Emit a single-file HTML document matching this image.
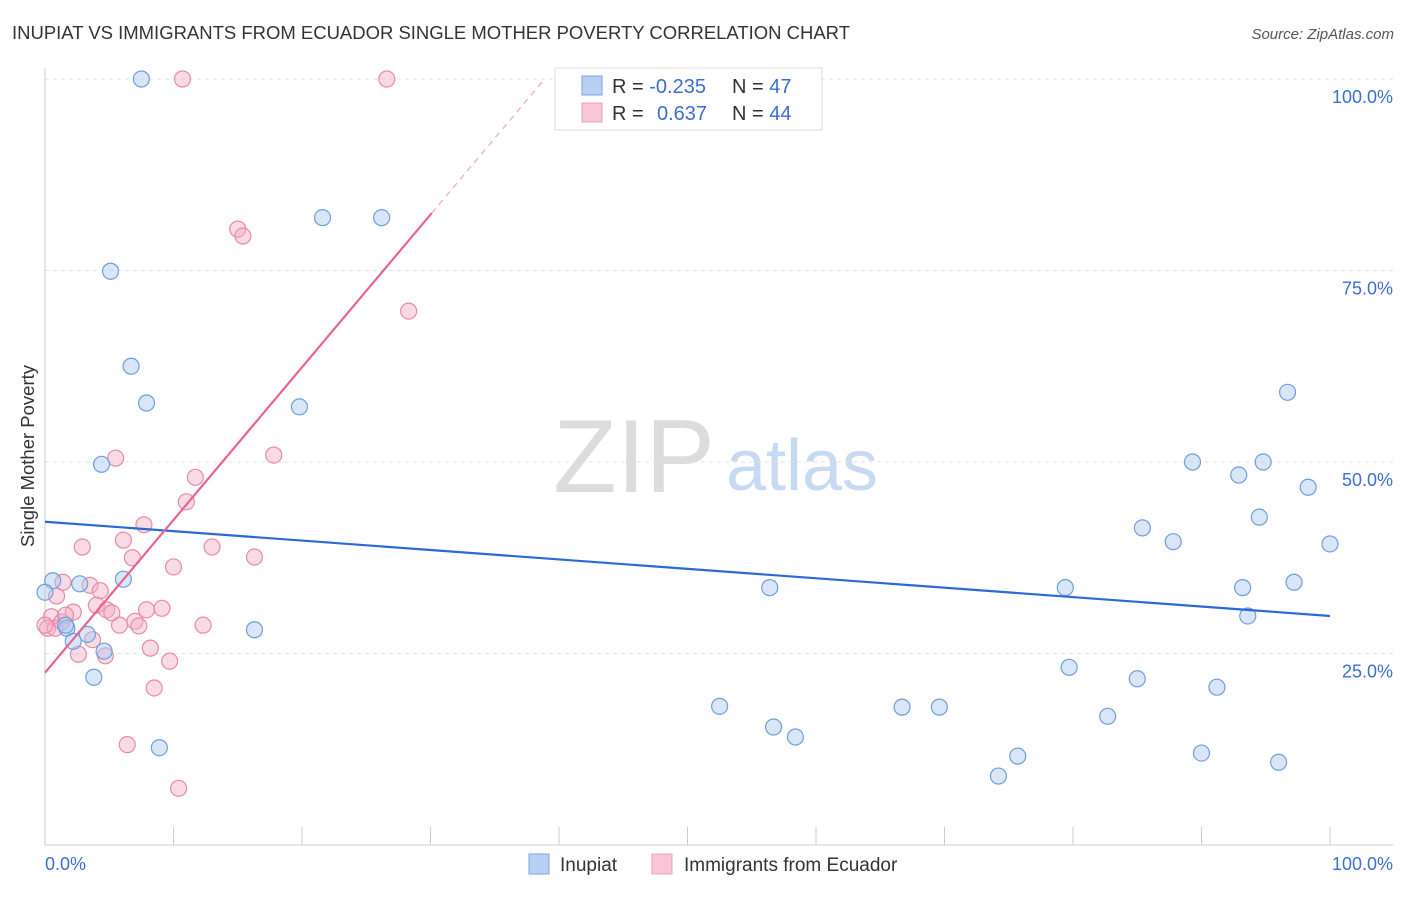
<!DOCTYPE html>
<html><head><meta charset="utf-8"><style>
body{margin:0;background:#fff;font-family:"Liberation Sans",sans-serif}
svg text{font-family:"Liberation Sans",sans-serif}
</style></head><body>
<svg id="chart" width="1406" height="892" xmlns="http://www.w3.org/2000/svg">
<text x="12" y="39" font-size="18.5" fill="#333" textLength="838" lengthAdjust="spacingAndGlyphs">INUPIAT VS IMMIGRANTS FROM ECUADOR SINGLE MOTHER POVERTY CORRELATION CHART</text>
<text x="1394" y="39" font-size="15" fill="#555" font-style="italic" text-anchor="end">Source: ZipAtlas.com</text>
<text transform="translate(34,456) rotate(-90)" font-size="18.5" fill="#333" text-anchor="middle">Single Mother Poverty</text>
<g>
<text x="634" y="492" font-size="104" fill="#dcdcdc" font-family="Liberation Serif" text-anchor="middle">ZIP</text>
<text x="802" y="490" font-size="72" fill="#c8daf2" text-anchor="middle">atlas</text>
</g>
<g id="grid"></g>
<g id="axes"></g>
<g id="marks"></g>
<g>
<rect x="555" y="68" width="267" height="62" fill="#fff" stroke="#ddd"/>
<rect x="582" y="76" width="20" height="19" fill="#b8d1f3" stroke="#7aa6e0"/>
<rect x="582" y="103" width="20" height="19" fill="#f8c6d5" stroke="#eda0b8"/>
<text x="612" y="93" font-size="20" fill="#333">R = <tspan fill="#3a6fd0">-0.235</tspan></text>
<text x="732" y="93" font-size="20" fill="#333">N = <tspan fill="#3a6fd0">47</tspan></text>
<text x="612" y="120" font-size="20" fill="#333">R = <tspan fill="#3a6fd0" x="657">0.637</tspan></text>
<text x="732" y="120" font-size="20" fill="#333">N = <tspan fill="#3a6fd0">44</tspan></text>
</g>
<g>
<rect x="529" y="854" width="20" height="20" fill="#b8d1f3" stroke="#7aa6e0"/>
<text x="560" y="871" font-size="19" fill="#333">Inupiat</text>
<rect x="652" y="854" width="20" height="20" fill="#f8c6d5" stroke="#eda0b8"/>
<text x="684" y="871" font-size="19" fill="#333">Immigrants from Ecuador</text>
</g>
</svg>
<script>
const yTicks=[25,50,75,100];
const yTickLabels=["25.0%","50.0%","75.0%","100.0%"];
const blueX=[7.5,21.6,26.2,5.1,6.7,7.9,19.8,4.4,0.6,2.7,6.1,0,1.7,2.2,3.3,4.6,3.8,8.9,16.3,52.5,56.7,58.4,56.4,66.7,69.6,74.2,75.7,79.4,79.7,82.7,85.0,85.4,87.8,89.3,90.0,91.2,92.9,93.2,93.6,94.5,94.8,96.0,96.7,97.2,98.3,100,1.6];
const blueY=[100,81.9,81.9,74.9,62.5,57.7,57.2,49.7,34.5,34.1,34.7,33.0,28.3,26.6,27.5,25.3,21.9,12.7,28.1,18.1,15.4,14.1,33.6,18.0,18.0,9.0,11.6,33.6,23.2,16.8,21.7,41.4,39.6,50.0,12.0,20.6,48.3,33.6,29.9,42.8,50.0,10.8,59.1,34.3,46.7,39.3,28.7];
const pinkX=[10.7,26.6,15.0,15.4,28.3,17.8,5.5,11.7,11.0,7.7,6.1,2.9,13.0,16.3,6.8,10.0,1.4,3.5,4.3,0.9,4.0,4.8,5.2,7.9,9.1,2.2,0.5,7.0,5.8,12.3,7.3,0.2,0.8,1.3,3.7,8.2,2.6,4.7,9.7,8.5,6.4,10.4,0,1.6];
const pinkY=[100,100,80.4,79.5,69.7,50.9,50.5,48.0,44.8,41.8,39.8,38.9,38.9,37.6,37.5,36.3,34.3,33.9,33.2,32.5,31.3,30.7,30.3,30.7,30.9,30.4,29.8,29.2,28.7,28.7,28.6,28.3,28.3,29.1,26.8,25.7,24.9,24.7,24.0,20.5,13.1,7.4,28.7,30.0];
const blueTrend=[42.2,29.9];
const pinkTrend=[22.5,82.5];
const pinkSolidEnd=30.1;
const NS="http://www.w3.org/2000/svg";
const X0=45,X1=1330,Y0=845,Y1=79;
const sx=v=>X0+(X1-X0)*v/100;
const sy=v=>Y0-(Y0-Y1)*v/100;
function mk(tag,attrs,parent){const e=document.createElementNS(NS,tag);for(const k in attrs)e.setAttribute(k,attrs[k]);parent.appendChild(e);return e;}
const grid=document.getElementById('grid'),axes=document.getElementById('axes'),marks=document.getElementById('marks');
yTicks.forEach((t,i)=>{
 const l=mk('line',{x1:X0,x2:1393,y1:sy(t),y2:sy(t),stroke:'#e2e2e2','stroke-dasharray':'4,4'},grid);
 
 
 const tx=mk('text',{x:1393,y:sy(t)+24,'font-size':18,fill:'#3a6fd0','text-anchor':'end'},axes);
 tx.textContent=yTickLabels[i];
 
 
});
const ax=mk('line',{x1:X0,x2:1393,y1:Y0,y2:Y0,stroke:'#ccc'},axes);


const ay=mk('line',{x1:X0,x2:X0,y1:68,y2:Y0,stroke:'#ccc'},axes);


for(let i=1;i<=10;i++){const t=mk('line',{x1:sx(i*10),x2:sx(i*10),y1:827,y2:Y0,stroke:'#ccc'},axes);
 
 }
[["0.0%",45,'start'],["100.0%",1393,'end']].forEach(a=>{const t=mk('text',{x:a[1],y:870,'font-size':18,fill:'#3a6fd0','text-anchor':a[2]},axes);t.textContent=a[0];
 
 });
function dots(xs,ys,fill,stroke,name){xs.forEach((x,i)=>{const c=mk('circle',{cx:sx(x),cy:sy(ys[i]),r:8,fill:fill,'fill-opacity':0.45,stroke:stroke,'stroke-width':1.2},marks);
 
 });}
dots(pinkX,pinkY,'#f5b0c6','#e88aa8','ecuador-point');
dots(blueX,blueY,'#a9c7f0','#6f9edc','inupiat-point');
const bl=mk('line',{x1:sx(0),y1:sy(blueTrend[0]),x2:sx(100),y2:sy(blueTrend[1]),stroke:'#2a6ad4','stroke-width':2.2},marks);


const pv=x=>pinkTrend[0]+(pinkTrend[1]-pinkTrend[0])*x/pinkSolidEnd;
const pl=mk('line',{x1:sx(0),y1:sy(pv(0)),x2:sx(pinkSolidEnd),y2:sy(pv(pinkSolidEnd)),stroke:'#e8648f','stroke-width':2.2},marks);


const xEnd=pinkSolidEnd*(100-pinkTrend[0])/(pinkTrend[1]-pinkTrend[0]);
const pd=mk('line',{x1:sx(pinkSolidEnd),y1:sy(pv(pinkSolidEnd)),x2:sx(xEnd),y2:sy(pv(xEnd)),stroke:'#f0a8be','stroke-width':1.2,'stroke-dasharray':'6,5'},marks);


</script>
</body></html>
